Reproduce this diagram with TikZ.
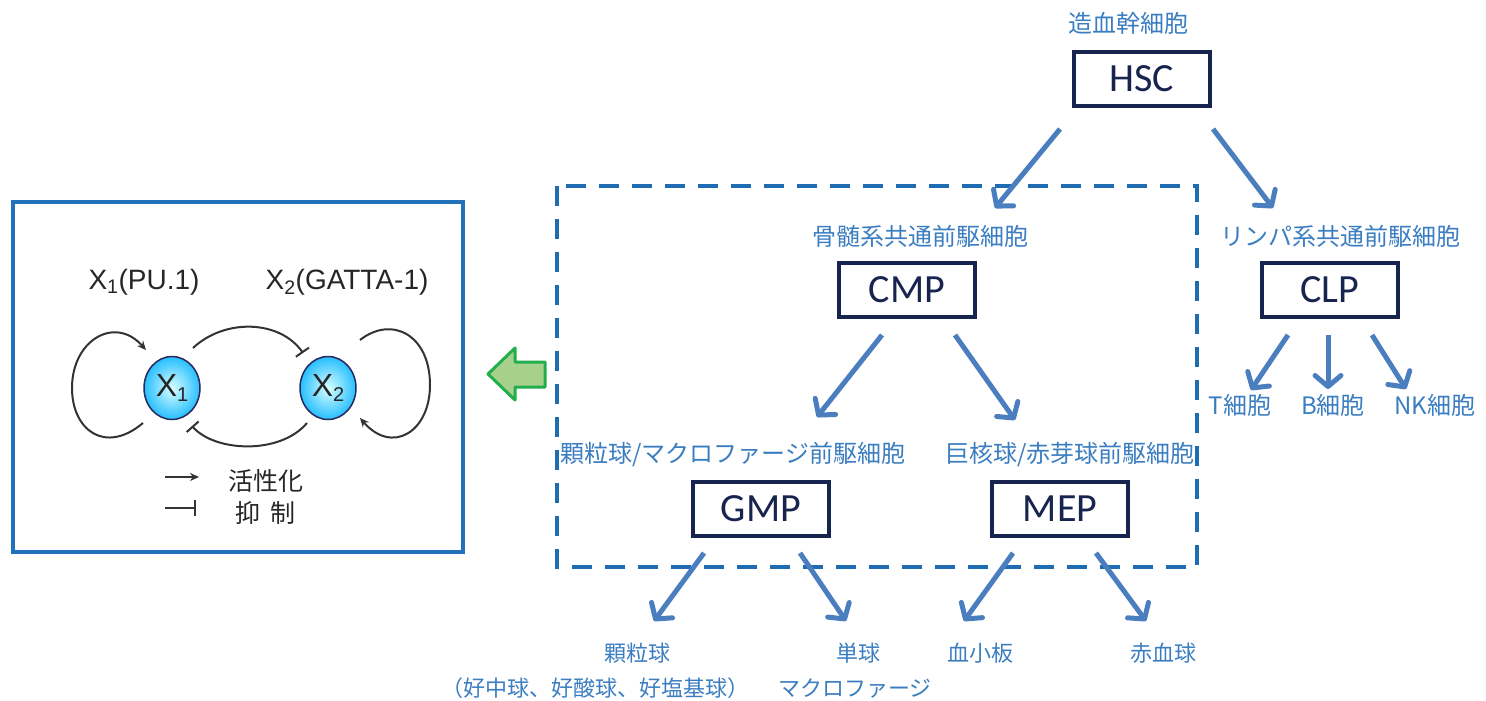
\documentclass[tikz,border=0pt]{standalone}
\usepackage{fontspec}
\setmainfont{Carlito}
\newfontfamily\jp{Noto Sans CJK JP}
\newfontfamily\lsans{Liberation Sans}
\usetikzlibrary{arrows.meta,shapes.geometric}
\definecolor{lbl}{HTML}{3A7DC0}
\definecolor{arrc}{HTML}{4A7EBE}
\definecolor{navy}{HTML}{17244F}
\definecolor{dashc}{HTML}{1F6CB2}
\definecolor{lboxc}{HTML}{2272BA}
\definecolor{gfill}{HTML}{A8D08D}
\definecolor{gline}{HTML}{21AE4B}
\definecolor{dk}{HTML}{333333}
\begin{document}
\begin{tikzpicture}[x=1pt,y=-1pt,
  box/.style={draw=navy, line width=3.5pt, minimum width=136pt, minimum height=54pt, inner sep=0pt, text=navy, font=\fontsize{40}{40}\selectfont},
  lab/.style={text=lbl, font=\jp\fontsize{24}{28}\selectfont, inner sep=0pt},
  blab/.style={text=lbl, font=\jp\fontsize{22}{26}\selectfont, inner sep=0pt},
  arr/.style={draw=arrc, line width=5pt, -{Straight Barb[length=11pt,width=26pt,round]}},
  cell/.style={ellipse, draw=dk!80!blue, line width=1.5pt, minimum width=56pt, minimum height=63pt, inner sep=0pt, shading=radial, inner color=cyan!15, outer color=cyan!70!blue!85, font=\lsans\fontsize{32}{32}\selectfont, text=black!85},
  curv/.style={draw=dk, line width=2pt},
  act/.style={curv, -{Stealth[length=9pt,width=8pt]}},
  inh/.style={curv, -{Bar[width=16pt,line width=2pt]}},
  tlab/.style={font=\lsans\fontsize{28}{28}\selectfont, text=black!85, inner sep=0pt, anchor=base},
  jlab/.style={font=\jp\fontsize{25}{27}\selectfont, text=black!85, inner sep=0pt}
]
\useasboundingbox (0,0) rectangle (1486,701);

% ---- left box ----
\draw[draw=lboxc, line width=4pt] (13,202) rectangle (463,552);
\node[tlab] (l1) at (144,289) {X\textsubscript{1}(PU.1)};
\node[tlab] (l2) at (347,289) {X\textsubscript{2}(GATTA-1)};
\node[cell] (X1) at (172,388) {X\raisebox{-5pt}{\fontsize{20}{20}\selectfont 1}};
\node[cell] (X2) at (328,388) {X\raisebox{-5pt}{\fontsize{20}{20}\selectfont 2}};
\coordinate (a1) at (143,423);
\coordinate (a2) at (146,350);
\coordinate (b1) at (193,348);
\coordinate (b2) at (303,353);
\coordinate (c1) at (307,423);
\coordinate (c2) at (192,426);
\coordinate (d1) at (360,340);
\coordinate (d2) at (360,418);
\draw[act] (a1) .. controls (105,455) and (72,430) .. (72,388) .. controls (72,340) and (115,315) .. (a2);
\draw[inh] (b1) .. controls (225,318) and (280,320) .. (b2);
\draw[inh] (c1) .. controls (280,455) and (215,452) .. (c2);
\draw[act] (d1) .. controls (392,315) and (430,335) .. (430,385) .. controls (430,432) and (392,455) .. (d2);
\coordinate (e1) at (165,477);
\coordinate (e2) at (199,477);
\coordinate (f1) at (165,508);
\coordinate (f2) at (196,508);
\draw[act, line width=2.5pt] (e1) -- (e2);
\draw[inh, line width=2.5pt] (f1) -- (f2);
\node[jlab] (act) at (266,481) {活性化};
\node[jlab] (inh) at (265,513) {抑\hspace{10pt}制};

% ---- green arrow ----
\draw[fill=gfill, draw=gline, line width=3pt, line join=round] (488,374) -- (515,348) -- (515,362) -- (545,362) -- (545,387) -- (515,387) -- (515,400) -- cycle;

% ---- dashed region ----
\draw[draw=dashc, line width=4pt, dash pattern=on 20pt off 13pt] (557,186) rectangle (1197,567);

% ---- boxes ----
\node[box] (HSC) at (1142,79) {HSC};
\node[box] (CMP) at (907,290) {CMP};
\node[box] (CLP) at (1330,290) {CLP};
\node[box] (GMP) at (761,509) {GMP};
\node[box] (MEP) at (1060,509) {MEP};

% ---- labels ----
\node[lab] (lHSC) at (1128,23) {造血幹細胞};
\node[lab] (lCMP) at (920,236) {骨髄系共通前駆細胞};
\node[lab] (lCLP) at (1340,236) {リンパ系共通前駆細胞};
\node[lab] (lGMP) at (733,455) {顆粒球/マクロファージ前駆細胞};
\node[lab] (lMEP) at (1070,455) {巨核球/赤芽球前駆細胞};
\node[lab] (T) at (1240,405) {T細胞};
\node[lab] (B) at (1333,405) {B細胞};
\node[lab] (NK) at (1435,405) {NK細胞};
\node[blab] (gran) at (637,653) {顆粒球};
\node[blab] (gran2) at (595,688) {（好中球、好酸球、好塩基球）};
\node[blab] (mono) at (858,653) {単球};
\node[blab] (macro) at (855,688) {マクロファージ};
\node[blab] (plt) at (980,653) {血小板};
\node[blab] (rbc) at (1163,653) {赤血球};

% ---- arrows ----
\coordinate (s1) at (1060,129); \coordinate (t1) at (995,208);
\coordinate (s2) at (1213,129); \coordinate (t2) at (1273,208);
\coordinate (s3) at (882,335);  \coordinate (t3) at (817,417);
\coordinate (s4) at (955,335);  \coordinate (t4) at (1015,420);
\coordinate (s5) at (1288,335); \coordinate (t5) at (1251,390);
\coordinate (s6) at (1328,335); \coordinate (t6) at (1328,389);
\coordinate (s7) at (1372,335); \coordinate (t7) at (1406,389);
\coordinate (s8) at (704,553);  \coordinate (t8) at (654,621);
\coordinate (s9) at (800,553);  \coordinate (t9) at (846,621);
\coordinate (s10) at (1013,553); \coordinate (t10) at (964,621);
\coordinate (s11) at (1096,553); \coordinate (t11) at (1146,621);
\foreach \i in {1,...,11} { \draw[arr] (s\i) -- (t\i); }
\end{tikzpicture}
\end{document}
